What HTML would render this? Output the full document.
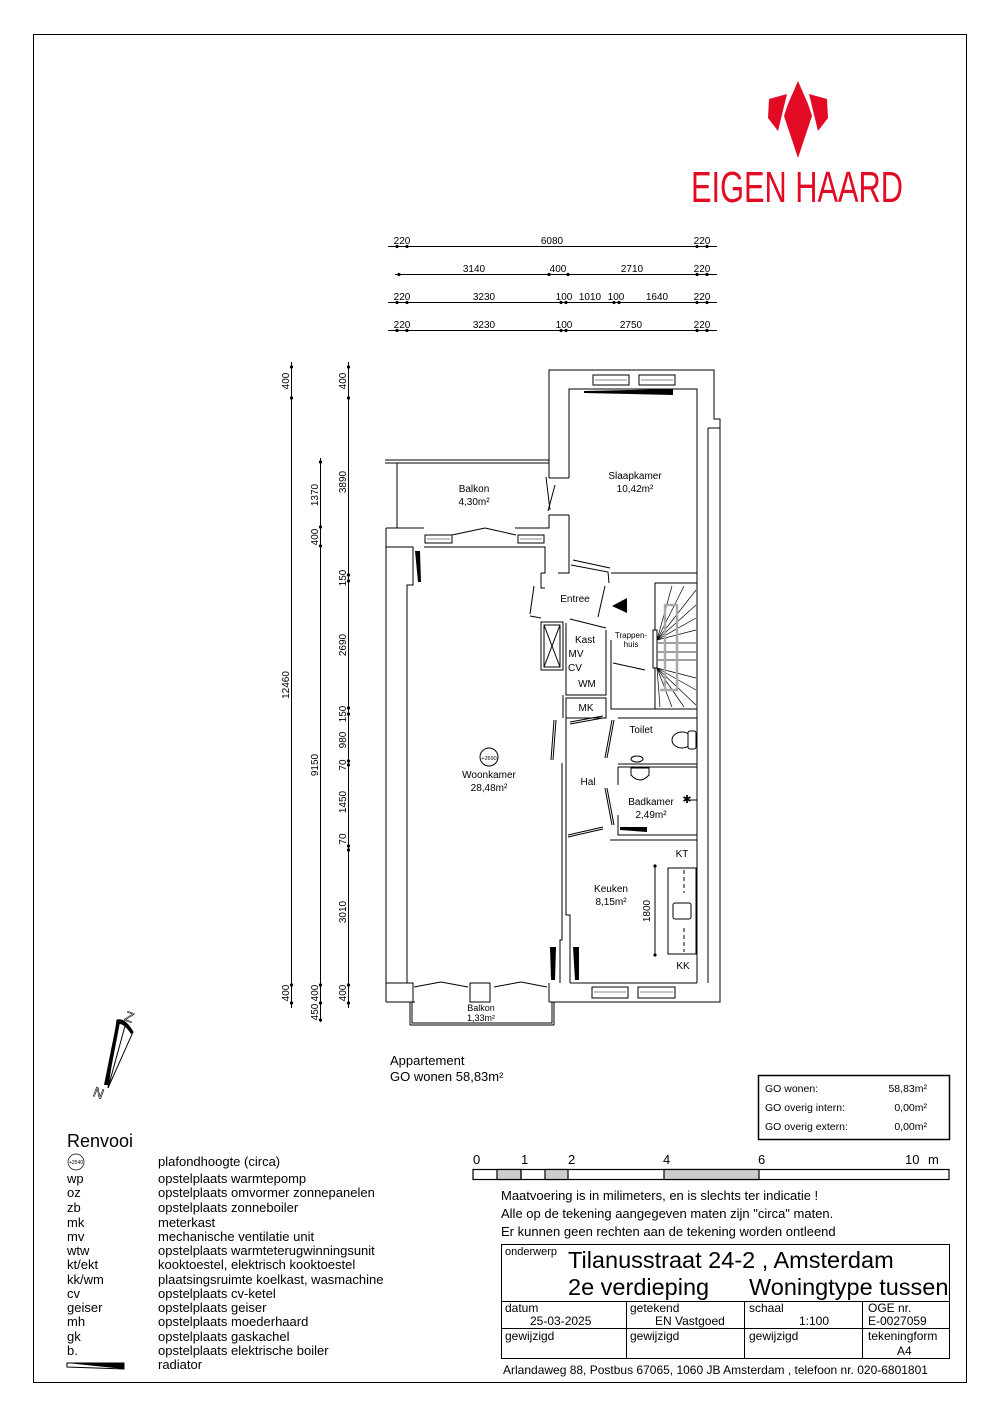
<!DOCTYPE html>
<html><head><meta charset="utf-8"><style>
html,body{margin:0;padding:0;background:#fff}
svg{display:block}
text{font-family:"Liberation Sans",sans-serif;fill:#000}
</style></head><body>
<svg width="1000" height="1415" viewBox="0 0 1000 1415" xmlns="http://www.w3.org/2000/svg">
<rect x="33.5" y="34.5" width="933" height="1348" fill="none" stroke="#000" stroke-width="1"/>

<!-- Logo -->
<g fill="#e30b24">
<polygon points="798,81 788,104 784,116 798,158 812,116 808,104"/>
<polygon points="769,99 787,94 778,131 768,118"/>
<polygon points="827,99 809,94 818,131 828,118"/>
</g>
<text x="797" y="202" text-anchor="middle" font-size="44" style="fill:#e30b24" textLength="212" lengthAdjust="spacingAndGlyphs">EIGEN HAARD</text>

<!-- horizontal dimension lines -->
<g stroke="#000" stroke-width="1" fill="none">
<line x1="388" y1="246.5" x2="717" y2="246.5"/>
<line x1="395" y1="274.5" x2="717" y2="274.5"/>
<line x1="388" y1="302.5" x2="717" y2="302.5"/>
<line x1="388" y1="330.5" x2="717" y2="330.5"/>
</g>
<g fill="#000">
<circle cx="397" cy="246.5" r="1.6"/><circle cx="407" cy="246.5" r="1.6"/><circle cx="697" cy="246.5" r="1.6"/><circle cx="707" cy="246.5" r="1.6"/>
<circle cx="399" cy="274.5" r="1.6"/><circle cx="549" cy="274.5" r="1.6"/><circle cx="568" cy="274.5" r="1.6"/><circle cx="697" cy="274.5" r="1.6"/><circle cx="707" cy="274.5" r="1.6"/>
<circle cx="397" cy="302.5" r="1.6"/><circle cx="407" cy="302.5" r="1.6"/><circle cx="561" cy="302.5" r="1.6"/><circle cx="566" cy="302.5" r="1.6"/><circle cx="614" cy="302.5" r="1.6"/><circle cx="619" cy="302.5" r="1.6"/><circle cx="697" cy="302.5" r="1.6"/><circle cx="707" cy="302.5" r="1.6"/>
<circle cx="397" cy="330.5" r="1.6"/><circle cx="407" cy="330.5" r="1.6"/><circle cx="561" cy="330.5" r="1.6"/><circle cx="566" cy="330.5" r="1.6"/><circle cx="697" cy="330.5" r="1.6"/><circle cx="707" cy="330.5" r="1.6"/>
</g>
<g font-size="10">
<text x="402" y="244" text-anchor="middle">220</text><text x="552" y="244" text-anchor="middle">6080</text><text x="702" y="244" text-anchor="middle">220</text>
<text x="474" y="272" text-anchor="middle">3140</text><text x="558" y="272" text-anchor="middle">400</text><text x="632" y="272" text-anchor="middle">2710</text><text x="702" y="272" text-anchor="middle">220</text>
<text x="402" y="300" text-anchor="middle">220</text><text x="484" y="300" text-anchor="middle">3230</text><text x="564" y="300" text-anchor="middle">100</text><text x="590" y="300" text-anchor="middle">1010</text><text x="616" y="300" text-anchor="middle">100</text><text x="657" y="300" text-anchor="middle">1640</text><text x="702" y="300" text-anchor="middle">220</text>
<text x="402" y="328" text-anchor="middle">220</text><text x="484" y="328" text-anchor="middle">3230</text><text x="564" y="328" text-anchor="middle">100</text><text x="631" y="328" text-anchor="middle">2750</text><text x="702" y="328" text-anchor="middle">220</text>
</g>

<!-- vertical dimension lines -->
<g stroke="#000" stroke-width="1">
<line x1="291.5" y1="362" x2="291.5" y2="1008"/>
<line x1="320.5" y1="458" x2="320.5" y2="1022"/>
<line x1="348.5" y1="362" x2="348.5" y2="1008"/>
</g>
<g fill="#000">
<circle cx="291.5" cy="367" r="1.6"/><circle cx="291.5" cy="398" r="1.6"/><circle cx="291.5" cy="985" r="1.6"/><circle cx="291.5" cy="1003" r="1.6"/>
<circle cx="320.5" cy="462" r="1.6"/><circle cx="320.5" cy="527" r="1.6"/><circle cx="320.5" cy="546" r="1.6"/><circle cx="320.5" cy="985" r="1.6"/><circle cx="320.5" cy="1003" r="1.6"/><circle cx="320.5" cy="1020" r="1.6"/>
<circle cx="348.5" cy="367" r="1.6"/><circle cx="348.5" cy="398" r="1.6"/><circle cx="348.5" cy="575" r="1.6"/><circle cx="348.5" cy="581" r="1.6"/><circle cx="348.5" cy="708" r="1.6"/><circle cx="348.5" cy="714" r="1.6"/><circle cx="348.5" cy="761" r="1.6"/><circle cx="348.5" cy="765" r="1.6"/><circle cx="348.5" cy="846" r="1.6"/><circle cx="348.5" cy="850" r="1.6"/><circle cx="348.5" cy="985" r="1.6"/><circle cx="348.5" cy="1003" r="1.6"/>
</g>
<g font-size="10">
<text transform="translate(289,381) rotate(-90)" text-anchor="middle">400</text>
<text transform="translate(289,685) rotate(-90)" text-anchor="middle">12460</text>
<text transform="translate(289,993) rotate(-90)" text-anchor="middle">400</text>
<text transform="translate(318,495) rotate(-90)" text-anchor="middle">1370</text>
<text transform="translate(318,537) rotate(-90)" text-anchor="middle">400</text>
<text transform="translate(318,765) rotate(-90)" text-anchor="middle">9150</text>
<text transform="translate(318,993) rotate(-90)" text-anchor="middle">400</text>
<text transform="translate(318,1012) rotate(-90)" text-anchor="middle">450</text>
<text transform="translate(346,381) rotate(-90)" text-anchor="middle">400</text>
<text transform="translate(346,482) rotate(-90)" text-anchor="middle">3890</text>
<text transform="translate(346,578) rotate(-90)" text-anchor="middle">150</text>
<text transform="translate(346,645) rotate(-90)" text-anchor="middle">2690</text>
<text transform="translate(346,714) rotate(-90)" text-anchor="middle">150</text>
<text transform="translate(346,740) rotate(-90)" text-anchor="middle">980</text>
<text transform="translate(346,765) rotate(-90)" text-anchor="middle">70</text>
<text transform="translate(346,802) rotate(-90)" text-anchor="middle">1450</text>
<text transform="translate(346,839) rotate(-90)" text-anchor="middle">70</text>
<text transform="translate(346,912) rotate(-90)" text-anchor="middle">3010</text>
<text transform="translate(346,993) rotate(-90)" text-anchor="middle">400</text>
</g>

<!-- Floor plan walls -->
<g stroke="#000" stroke-width="1" fill="none">
<polyline points="549,478 549,370 714,370 714,419 720,419 720,1002 549,1002"/>
<line x1="708" y1="428" x2="708" y2="983"/>
<line x1="708" y1="428" x2="720" y2="428"/>
<polyline points="569,478 569,389 697,389 697,983"/>
<line x1="549" y1="478" x2="569" y2="478"/>
<line x1="549" y1="515" x2="569" y2="515"/>
<line x1="611" y1="573" x2="697" y2="573"/>
<polyline points="549,515 549,528 548,528"/>
<polyline points="569,515 569,573 558,573"/>
<line x1="385" y1="460" x2="549" y2="460"/>
<line x1="385" y1="463" x2="549" y2="463"/>
<line x1="397" y1="463" x2="397" y2="528"/>
<polyline points="386,528 424,528"/>
<polyline points="515,528 549,528 549,515"/>
<polyline points="386,528 386,547 413,547 413,585 407,585 407,983"/>
<line x1="386" y1="547" x2="386" y2="1002"/>
<polyline points="424,547 545,547 545,573 541,573"/>
<polyline points="386,983 407,983"/>
<polyline points="386,1002 415,1002"/>
<polyline points="407,983 413,983 413,1002"/>
<rect x="470" y="983" width="20" height="19"/>
<polyline points="549,983 549,1002"/>
<polyline points="570,983 697,983"/>
<polyline points="549,1002 720,1002"/>
<polyline points="410,1002 410,1025 554,1025 554,1002"/>
<polyline points="412,1002 412,1023 552,1023 552,1002"/>
<polyline points="562,763 562,940 560,940 560,983"/>
<polyline points="566,763 566,915 570,915 570,983"/>
<polyline points="541,573 541,588 545,588"/>
<polyline points="530,616 541,618"/>
<polyline points="571,565 608,572 609,583"/>
<polyline points="573,560 610,568"/>
<rect x="541" y="622" width="22" height="48"/>
<rect x="544" y="625" width="16" height="42"/>
<line x1="544" y1="625" x2="560" y2="667"/><line x1="560" y1="625" x2="544" y2="667"/>
<polyline points="566,623 566,695 606,695 606,630"/>
<polyline points="570,619 606,628"/>
<rect x="566" y="698" width="40" height="20" fill="none"/>
<polyline points="563,695 563,718"/>
<rect x="655" y="583" width="42" height="126"/>
<polyline points="611,640 611,709 655,709"/>
<line x1="613" y1="663" x2="645" y2="670"/>
<polyline points="618,718 697,718"/>
<polyline points="618,764 697,764"/>
<polyline points="618,767 697,767"/>
<polyline points="618,767 618,785"/>
<polyline points="618,815 618,835 697,835"/>
<polyline points="610,840 697,840"/>
<polyline points="566,718 566,763"/>
<line x1="546" y1="477" x2="550" y2="510"/>
<line x1="555" y1="485" x2="548" y2="511"/>
<line x1="554" y1="720" x2="551" y2="760"/>
<line x1="556" y1="720" x2="553" y2="760"/>
<line x1="570" y1="722" x2="603" y2="716"/>
<line x1="570" y1="724" x2="603" y2="718"/>
<line x1="612" y1="720" x2="605" y2="758"/>
<line x1="614" y1="720" x2="607" y2="758"/>
<line x1="605" y1="788" x2="612" y2="825"/>
<line x1="607" y1="788" x2="614" y2="825"/>
<line x1="568" y1="835" x2="603" y2="827"/>
<line x1="568" y1="837" x2="603" y2="829"/>
<line x1="534" y1="586" x2="530" y2="614"/>
<line x1="598" y1="617" x2="605" y2="586"/>
<line x1="414" y1="987" x2="441" y2="982"/><line x1="441" y1="982" x2="468" y2="987"/>
<line x1="494" y1="987" x2="521" y2="982"/><line x1="521" y1="982" x2="547" y2="987"/>
<line x1="452" y1="535" x2="485" y2="528"/><line x1="485" y1="528" x2="516" y2="535"/>
</g>
<g stroke="#000" stroke-width="1" fill="#fff">
<rect x="593" y="375" width="36" height="10"/><rect x="639" y="375" width="36" height="10"/>
<rect x="425" y="535" width="27" height="8"/><rect x="518" y="535" width="26" height="8"/>
<rect x="592" y="987" width="36" height="11"/><rect x="638" y="987" width="37" height="11"/>
</g>
<g stroke="#888" stroke-width="1">
<line x1="595" y1="380" x2="627" y2="380"/><line x1="641" y1="380" x2="673" y2="380"/>
<line x1="594" y1="992" x2="626" y2="992"/><line x1="640" y1="992" x2="673" y2="992"/>
<line x1="427" y1="539" x2="450" y2="539"/><line x1="520" y1="539" x2="542" y2="539"/>
</g>
<g fill="#000">
<polygon points="584,391 673,389 673,395 584,393"/>
<polygon points="415,551 420,551 421,582 418,582"/>
<polygon points="550,947 556,947 555,980 551,980"/>
<polygon points="573,947 579,947 579,980 575,980"/>
<polygon points="620,827 647,827 647,832 620,830"/>
<polygon points="612,606 627,598 627,613"/>
</g>
<g stroke="#000" stroke-width="0.7">
<line x1="657" y1="640" x2="672" y2="586"/><line x1="657" y1="640" x2="684" y2="586"/><line x1="657" y1="640" x2="696" y2="590"/><line x1="657" y1="640" x2="696" y2="605"/><line x1="657" y1="640" x2="696" y2="618"/><line x1="657" y1="640" x2="696" y2="630"/>
<line x1="657" y1="668" x2="672" y2="707"/><line x1="657" y1="668" x2="684" y2="707"/><line x1="657" y1="668" x2="696" y2="705"/><line x1="657" y1="668" x2="696" y2="690"/><line x1="657" y1="668" x2="696" y2="678"/><line x1="657" y1="668" x2="660" y2="707"/>
<line x1="658" y1="643" x2="696" y2="643"/><line x1="658" y1="652" x2="696" y2="652"/><line x1="658" y1="660" x2="696" y2="660"/>
</g>
<g stroke="#aaa" stroke-width="2.5" fill="none">
<polyline points="665,690 665,605 677,605 677,690 660,690"/>
</g>
<rect x="653" y="630" width="4" height="38" fill="#fff" stroke="#000"/>
<g stroke="#000" fill="#fff" stroke-width="1">
<ellipse cx="682" cy="740" rx="10" ry="8"/>
<rect x="688" y="731" width="8" height="18" rx="2"/>
<ellipse cx="637" cy="759" rx="6" ry="3"/>
<path d="M631,768 L649,768 L649,775 Q640,785 631,775 Z"/>
<rect x="668" y="868" width="28" height="86"/>
<rect x="673" y="903" width="18" height="16" rx="2"/>
</g>
<g stroke="#000" fill="none" stroke-dasharray="4,3">
<line x1="684" y1="870" x2="684" y2="893"/><line x1="684" y1="928" x2="684" y2="952"/>
</g>
<line x1="655" y1="866" x2="655" y2="955" stroke="#000"/>
<circle cx="655" cy="866" r="1.6"/><circle cx="655" cy="955" r="1.6"/>
<text transform="translate(650,911) rotate(-90)" text-anchor="middle" font-size="10">1800</text>
<text x="687" y="803" font-size="11" text-anchor="middle">✱</text>
<line x1="690" y1="800" x2="697" y2="800" stroke="#000"/>
<circle cx="489" cy="757" r="9" fill="#fff" stroke="#000"/>
<text x="489" y="760" font-size="5.5" text-anchor="middle">+2690</text>

<g font-size="10" text-anchor="middle">
<text x="474" y="492">Balkon</text><text x="474" y="505">4,30m²</text>
<text x="635" y="479">Slaapkamer</text><text x="635" y="492">10,42m²</text>
<text x="575" y="602">Entree</text>
<text x="585" y="643">Kast</text>
<text x="576" y="657">MV</text><text x="575" y="671">CV</text><text x="587" y="687">WM</text>
<text x="586" y="711">MK</text>
<text x="641" y="733">Toilet</text>
<text x="489" y="778">Woonkamer</text><text x="489" y="791">28,48m²</text>
<text x="588" y="785">Hal</text>
<text x="651" y="805">Badkamer</text><text x="651" y="818">2,49m²</text>
<text x="682" y="857">KT</text>
<text x="611" y="892">Keuken</text><text x="611" y="905">8,15m²</text>
<text x="683" y="969">KK</text>
<text x="481" y="1011" font-size="9">Balkon</text><text x="481" y="1021" font-size="9">1,33m²</text>
<text x="631" y="638" font-size="8">Trappen-</text><text x="631" y="647" font-size="8">huis</text>
</g>

<g>
<polygon points="117,1020 104,1085 108,1085 120,1022" fill="#000"/>
<path d="M117,1020 Q125,1018 133,1032 L108,1088 Z" fill="none" stroke="#000"/>
<path d="M117,1020 Q126,1019 133,1032 L131,1034 Q124,1023 118,1024 Z" fill="#000"/>
<line x1="108" y1="1088" x2="125" y2="1026" stroke="#000"/>
<text x="125" y="1022" font-size="14" transform="rotate(20 130 1017)" style="fill:none;stroke:#000;stroke-width:0.6">Z</text>
<text x="94" y="1098" font-size="14" transform="rotate(20 100 1092)" style="fill:none;stroke:#000;stroke-width:0.6">N</text>
</g>

<text x="390" y="1065" font-size="13">Appartement</text>
<text x="390" y="1081" font-size="13">GO wonen 58,83m²</text>

<rect x="758.5" y="1075.5" width="191" height="64" fill="none" stroke="#000" stroke-width="1.5"/>
<g font-size="10.5">
<text x="765" y="1092">GO wonen:</text><text x="927" y="1092" text-anchor="end">58,83m²</text>
<text x="765" y="1111">GO overig intern:</text><text x="927" y="1111" text-anchor="end">0,00m²</text>
<text x="765" y="1130">GO overig extern:</text><text x="927" y="1130" text-anchor="end">0,00m²</text>
</g>

<text x="67" y="1147" font-size="18">Renvooi</text>
<circle cx="76" cy="1162" r="8" fill="none" stroke="#000" stroke-width="0.7"/>
<text x="76" y="1164" font-size="5" text-anchor="middle">+2540</text>
<g font-size="13">
<text x="158" y="1166">plafondhoogte (circa)</text>
<text x="67" y="1183">wp</text><text x="158" y="1183">opstelplaats warmtepomp</text>
<text x="67" y="1197">oz</text><text x="158" y="1197">opstelplaats omvormer zonnepanelen</text>
<text x="67" y="1212">zb</text><text x="158" y="1212">opstelplaats zonneboiler</text>
<text x="67" y="1227">mk</text><text x="158" y="1227">meterkast</text>
<text x="67" y="1241">mv</text><text x="158" y="1241">mechanische ventilatie unit</text>
<text x="67" y="1255">wtw</text><text x="158" y="1255">opstelplaats warmteterugwinningsunit</text>
<text x="67" y="1269">kt/ekt</text><text x="158" y="1269">kooktoestel, elektrisch kooktoestel</text>
<text x="67" y="1284">kk/wm</text><text x="158" y="1284">plaatsingsruimte koelkast, wasmachine</text>
<text x="67" y="1298">cv</text><text x="158" y="1298">opstelplaats cv-ketel</text>
<text x="67" y="1312">geiser</text><text x="158" y="1312">opstelplaats geiser</text>
<text x="67" y="1326">mh</text><text x="158" y="1326">opstelplaats moederhaard</text>
<text x="67" y="1341">gk</text><text x="158" y="1341">opstelplaats gaskachel</text>
<text x="67" y="1355">b.</text><text x="158" y="1355">opstelplaats elektrische boiler</text>
<text x="158" y="1369">radiator</text>
</g>
<polygon points="67,1363 124,1363 124,1369 67,1367" fill="#fff" stroke="#000"/>
<polygon points="67,1363 124,1363 124,1369" fill="#000"/>

<g font-size="13">
<text x="473" y="1164">0</text><text x="521" y="1164">1</text><text x="568" y="1164">2</text><text x="663" y="1164">4</text><text x="758" y="1164">6</text><text x="905" y="1164">10</text><text x="928" y="1164">m</text>
</g>
<g stroke="#000" stroke-width="1.2">
<rect x="473" y="1169.5" width="476" height="10" fill="#fff"/>
<rect x="497" y="1169.5" width="24" height="10" fill="#ccc"/>
<rect x="545" y="1169.5" width="23" height="10" fill="#ccc"/>
<rect x="664" y="1169.5" width="95" height="10" fill="#ccc"/>
<line x1="521" y1="1169.5" x2="521" y2="1179.5"/>
</g>

<g font-size="13">
<text x="501" y="1200">Maatvoering is in milimeters, en is slechts ter indicatie !</text>
<text x="501" y="1218">Alle op de tekening aangegeven maten zijn "circa" maten.</text>
<text x="501" y="1236">Er kunnen geen rechten aan de tekening worden ontleend</text>
</g>

<g stroke="#000" stroke-width="1" fill="none">
<rect x="501.5" y="1244.5" width="448" height="114"/>
<line x1="501" y1="1301.5" x2="950" y2="1301.5"/>
<line x1="501" y1="1328.5" x2="950" y2="1328.5"/>
<line x1="626.5" y1="1301" x2="626.5" y2="1359"/>
<line x1="744.5" y1="1301" x2="744.5" y2="1359"/>
<line x1="862.5" y1="1301" x2="862.5" y2="1359"/>
</g>
<text x="505" y="1255" font-size="11">onderwerp</text>
<text x="568" y="1268" font-size="23.5">Tilanusstraat 24-2 , Amsterdam</text>
<text x="568" y="1295" font-size="23.5">2e verdieping</text>
<text x="749" y="1295" font-size="23.5">Woningtype tussen</text>
<g font-size="12">
<text x="505" y="1312">datum</text><text x="530" y="1325">25-03-2025</text>
<text x="630" y="1312">getekend</text><text x="655" y="1325">EN Vastgoed</text>
<text x="749" y="1312">schaal</text><text x="799" y="1325">1:100</text>
<text x="868" y="1312">OGE nr.</text><text x="868" y="1325">E-0027059</text>
<text x="505" y="1340">gewijzigd</text><text x="630" y="1340">gewijzigd</text><text x="749" y="1340">gewijzigd</text>
<text x="868" y="1340">tekeningform</text><text x="897" y="1355">A4</text>
<text x="503" y="1374">Arlandaweg 88, Postbus 67065, 1060 JB Amsterdam , telefoon nr. 020-6801801</text>
</g>
</svg>
</body></html>
